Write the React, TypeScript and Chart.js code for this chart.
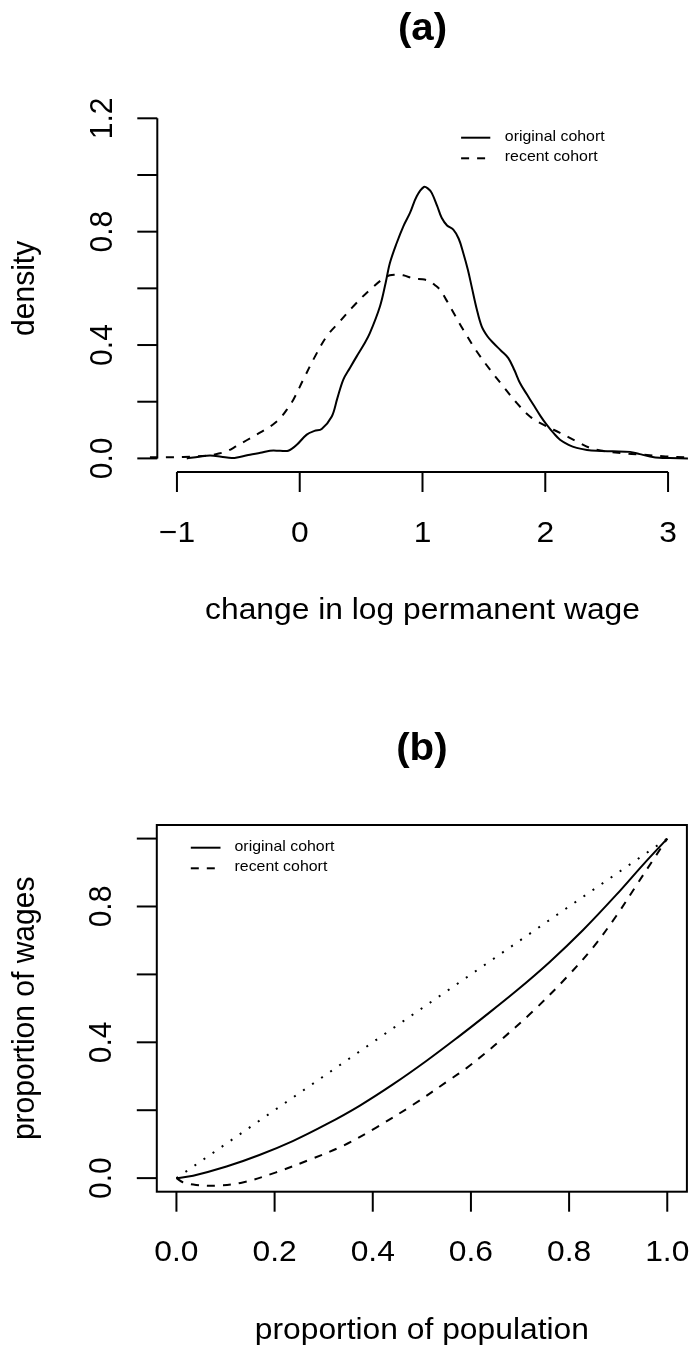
import React, { useEffect, useRef } from "react";
import { Chart, registerables } from "chart.js";

Chart.register(...registerables);

// ---------- Panel (a): density of change in log permanent wage ----------
const densityOriginalX = [
  -0.92, -0.82, -0.73, -0.64, -0.554, -0.48, -0.405, -0.32, -0.242, -0.16, -0.093, -0.024,
  0.057, 0.12, 0.179, 0.261, 0.305, 0.355, 0.41, 0.464, 0.52, 0.572, 0.654, 0.7, 0.735, 0.79,
  0.844, 0.898, 0.953, 1.012, 1.045, 1.075, 1.12, 1.156, 1.2, 1.251, 1.295, 1.332, 1.37, 1.4,
  1.44, 1.482, 1.53, 1.577, 1.64, 1.699, 1.75, 1.794, 1.85, 1.902, 1.96, 2.011, 2.07, 2.12,
  2.19, 2.256, 2.34, 2.419, 2.55, 2.69, 2.77, 2.853, 2.93, 3.015, 3.162,
];
const densityOriginalY = [
  0.0, 0.006, 0.01, 0.006, 0.001, 0.006, 0.013, 0.02, 0.027, 0.027, 0.027, 0.048,
  0.084, 0.097, 0.104, 0.148, 0.21, 0.278, 0.32, 0.36, 0.4, 0.443, 0.537, 0.62, 0.69, 0.76,
  0.819, 0.866, 0.925, 0.958, 0.952, 0.937, 0.89, 0.849, 0.822, 0.807, 0.775, 0.725, 0.665, 0.607,
  0.53, 0.466, 0.43, 0.407, 0.38, 0.354, 0.31, 0.266, 0.226, 0.19, 0.15, 0.119, 0.088, 0.066,
  0.048, 0.037, 0.03, 0.027, 0.025, 0.023, 0.015, 0.007, 0.002, 0.001, 0.0,
];
const densityRecentX = [
  -1.22, -1.08, -0.948, -0.84, -0.73, -0.66, -0.594, -0.52, -0.432, -0.36, -0.283, -0.21,
  -0.147, -0.1, -0.052, 0.029, 0.125, 0.22, 0.328, 0.437, 0.572, 0.708, 0.78, 0.844, 0.93,
  1.0, 1.061, 1.1, 1.143, 1.19, 1.238, 1.332, 1.441, 1.55, 1.658, 1.767, 1.875, 1.984, 2.12,
  2.256, 2.364, 2.45, 2.527, 2.66, 2.798, 2.98, 3.162,
];
const densityRecentY = [
  0.004, 0.004, 0.005, 0.007, 0.011, 0.017, 0.025, 0.042, 0.064, 0.082, 0.101, 0.122,
  0.148, 0.175, 0.207, 0.278, 0.36, 0.431, 0.484, 0.537, 0.595, 0.642, 0.648, 0.646, 0.634,
  0.632, 0.625, 0.612, 0.595, 0.562, 0.525, 0.454, 0.378, 0.313, 0.254, 0.196, 0.148, 0.119, 0.09,
  0.06, 0.037, 0.028, 0.023, 0.017, 0.013, 0.007, 0.004,
];
const densityXTicks = [-1, 0, 1, 2, 3];
const densityXTickLabels = ["\u22121", "0", "1", "2", "3"];
const densityYTicks = [0, 0.2, 0.4, 0.6, 0.8, 1.0, 1.2];
const densityYTickLabels = ["0.0", "", "0.4", "", "0.8", "", "1.2"];

// ---------- Panel (b): Lorenz curves ----------
const lorenzOriginalX = [0, 0.034, 0.102, 0.169, 0.237, 0.305, 0.373, 0.441, 0.509, 0.577, 0.624, 0.692, 0.76, 0.828, 0.896, 0.95, 1.0];
const lorenzOriginalY = [0, 0.007, 0.034, 0.068, 0.109, 0.158, 0.213, 0.276, 0.345, 0.419, 0.472, 0.551, 0.636, 0.73, 0.834, 0.922, 1.0];
const lorenzRecentX = [0, 0.013, 0.04, 0.081, 0.135, 0.203, 0.271, 0.339, 0.407, 0.482, 0.557, 0.591, 0.624, 0.658, 0.726, 0.794, 0.848, 0.896, 0.937, 0.971, 1.0];
const lorenzRecentY = [0, -0.012, -0.02, -0.022, -0.013, 0.017, 0.054, 0.095, 0.149, 0.216, 0.29, 0.324, 0.362, 0.403, 0.491, 0.59, 0.678, 0.772, 0.862, 0.937, 1.0];
const equalityX = [0, 1];
const equalityY = [0, 1];
const lorenzTicks = [0, 0.2, 0.4, 0.6, 0.8, 1.0];
const lorenzXTickLabels = ["0.0", "0.2", "0.4", "0.6", "0.8", "1.0"];
const lorenzYTickLabels = ["0.0", "", "0.4", "", "0.8", ""];

const legendLabels = ["original cohort", "recent cohort"];

const FONT = '"Liberation Sans", Arial, Helvetica, sans-serif';
const STRETCH = 1.06;

const pts = (xs: number[], ys: number[]) => xs.map((x, i) => ({ x, y: ys[i] }));

function drawText(
  ctx: CanvasRenderingContext2D,
  s: string,
  x: number,
  y: number,
  size: number,
  opts: { bold?: boolean; align?: CanvasTextAlign; rotate?: boolean } = {}
) {
  ctx.save();
  ctx.translate(x, y);
  ctx.scale(STRETCH, 1);
  if (opts.rotate) ctx.rotate(-Math.PI / 2);
  ctx.font = `${opts.bold ? "bold " : ""}${size}px ${FONT}`;
  ctx.textAlign = opts.align || "center";
  ctx.textBaseline = "alphabetic";
  ctx.fillStyle = "#000";
  ctx.fillText(s, 0, 0);
  ctx.restore();
}

function line(ctx: CanvasRenderingContext2D, x1: number, y1: number, x2: number, y2: number, dash: number[] = []) {
  ctx.save();
  ctx.setLineDash(dash);
  ctx.beginPath();
  ctx.moveTo(x1, y1);
  ctx.lineTo(x2, y2);
  ctx.stroke();
  ctx.restore();
}

function drawLegend(ctx: CanvasRenderingContext2D, x0: number, x1: number, tx: number, y0: number, y1: number) {
  ctx.save();
  ctx.strokeStyle = "#000";
  ctx.lineWidth = 2;
  line(ctx, x0, y0, x1, y0);
  line(ctx, x0, y1, x1, y1, [8, 8]);
  ctx.restore();
  drawText(ctx, legendLabels[0], tx, y0 + 3, 15, { align: "left" });
  drawText(ctx, legendLabels[1], tx, y1 + 3, 15, { align: "left" });
}

const baseDataset = {
  borderColor: "#000",
  borderWidth: 2,
  pointRadius: 0,
  showLine: true,
  fill: false,
  tension: 0.35,
  clip: false as any,
};

const densityPlugin = {
  id: "densityAxes",
  afterDraw(chart: any) {
    const { ctx, chartArea: ca, scales } = chart;
    const xs = scales.x;
    const ys = scales.y;
    ctx.save();
    ctx.strokeStyle = "#000";
    ctx.lineWidth = 2;
    ctx.lineCap = "butt";
    const ay = ca.bottom;
    line(ctx, xs.getPixelForValue(densityXTicks[0]), ay, xs.getPixelForValue(densityXTicks[densityXTicks.length - 1]), ay);
    densityXTicks.forEach((v, i) => {
      const px = xs.getPixelForValue(v);
      line(ctx, px, ay, px, ay + 20);
      drawText(ctx, densityXTickLabels[i], px, ay + 69.5, 30);
    });
    const ax = ca.left;
    line(ctx, ax, ys.getPixelForValue(densityYTicks[0]), ax, ys.getPixelForValue(densityYTicks[densityYTicks.length - 1]));
    densityYTicks.forEach((v, i) => {
      const py = ys.getPixelForValue(v);
      line(ctx, ax, py, ax - 20, py);
      if (densityYTickLabels[i]) drawText(ctx, densityYTickLabels[i], ax - 45.6, py, 30, { rotate: true });
    });
    ctx.restore();
    const cx = (ca.left + ca.right) / 2;
    drawText(ctx, "change in log permanent wage", cx, ay + 147, 30);
    drawText(ctx, "density", ax - 123.3, (ca.top + ca.bottom) / 2, 30, { rotate: true });
    drawText(ctx, "(a)", cx, ca.top - 64.4, 38, { bold: true });
    drawLegend(ctx, 461.1, 490.3, 504.8, ca.top + 33, ca.top + 53.6);
  },
};

const lorenzPlugin = {
  id: "lorenzAxes",
  afterDraw(chart: any) {
    const { ctx, chartArea: ca, scales } = chart;
    const xs = scales.x;
    const ys = scales.y;
    ctx.save();
    ctx.strokeStyle = "#000";
    ctx.lineWidth = 2;
    ctx.strokeRect(ca.left, ca.top, ca.right - ca.left, ca.bottom - ca.top);
    const ay = ca.bottom;
    lorenzTicks.forEach((v, i) => {
      const px = xs.getPixelForValue(v);
      line(ctx, px, ay, px, ay + 20);
      drawText(ctx, lorenzXTickLabels[i], px, ay + 69.5, 30);
    });
    const ax = ca.left;
    lorenzTicks.forEach((v, i) => {
      const py = ys.getPixelForValue(v);
      line(ctx, ax, py, ax - 20, py);
      if (lorenzYTickLabels[i]) drawText(ctx, lorenzYTickLabels[i], ax - 45.6, py, 30, { rotate: true });
    });
    ctx.restore();
    const cx = (ca.left + ca.right) / 2;
    drawText(ctx, "proportion of population", cx, ay + 147, 30);
    drawText(ctx, "proportion of wages", ax - 123.3, (ca.top + ca.bottom) / 2, 30, { rotate: true });
    drawText(ctx, "(b)", cx, ca.top - 64.7, 38, { bold: true });
    drawLegend(ctx, 190.8, 220.5, 234.5, ca.top + 22.7, ca.top + 43.3);
  },
};

function DensityChart() {
  const ref = useRef<HTMLCanvasElement>(null);
  useEffect(() => {
    if (!ref.current) return;
    const chart = new Chart(ref.current, {
      type: "scatter",
      data: {
        datasets: [
          { ...baseDataset, data: pts(densityOriginalX, densityOriginalY) },
          { ...baseDataset, borderDash: [8, 8], data: pts(densityRecentX, densityRecentY) },
        ],
      } as any,
      options: {
        animation: false,
        responsive: false,
        maintainAspectRatio: false,
        layout: { padding: { left: 157.3, right: 1.3, top: 104.7, bottom: 188 } },
        scales: {
          x: { type: "linear", min: -1.16, max: 3.16, display: false },
          y: { type: "linear", min: -0.048, max: 1.248, display: false },
        },
        plugins: { legend: { display: false }, tooltip: { enabled: false } },
      },
      plugins: [densityPlugin],
    });
    return () => chart.destroy();
  }, []);
  return (
    <canvas
      ref={ref}
      width={689}
      height={660}
      style={{ position: "absolute", left: 0, top: 0, width: 689, height: 660, display: "block" }}
    />
  );
}

function LorenzChart() {
  const ref = useRef<HTMLCanvasElement>(null);
  useEffect(() => {
    if (!ref.current) return;
    const chart = new Chart(ref.current, {
      type: "scatter",
      data: {
        datasets: [
          { ...baseDataset, data: pts(lorenzOriginalX, lorenzOriginalY) },
          { ...baseDataset, borderDash: [8, 8], data: pts(lorenzRecentX, lorenzRecentY) },
          { ...baseDataset, borderDash: [2, 9], tension: 0, data: pts(equalityX, equalityY) },
        ],
      } as any,
      options: {
        animation: false,
        responsive: false,
        maintainAspectRatio: false,
        layout: { padding: { left: 156.8, right: 2.1, top: 165, bottom: 155.3 } },
        scales: {
          x: { type: "linear", min: -0.04, max: 1.04, display: false },
          y: { type: "linear", min: -0.04, max: 1.04, display: false },
        },
        plugins: { legend: { display: false }, tooltip: { enabled: false } },
      },
      plugins: [lorenzPlugin],
    });
    return () => chart.destroy();
  }, []);
  return (
    <canvas
      ref={ref}
      width={689}
      height={687}
      style={{ position: "absolute", left: 0, top: 660, width: 689, height: 687, display: "block" }}
    />
  );
}

export default function App() {
  return (
    <div style={{ position: "absolute", left: 0, top: 0, width: 689, height: 1347, background: "#fff" }}>
      <DensityChart />
      <LorenzChart />
    </div>
  );
}
